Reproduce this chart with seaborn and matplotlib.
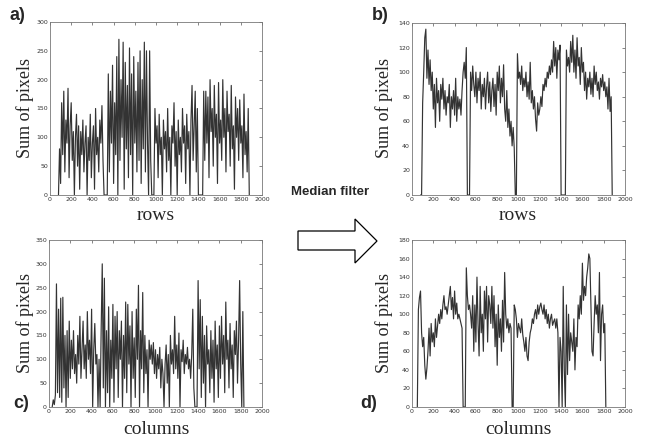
import numpy as np
import pandas as pd
import matplotlib
matplotlib.use("Agg")
import matplotlib.pyplot as plt
from matplotlib.patches import Polygon
import seaborn as sns

# ---------------- data (step 10 along x) ----------------
a_start = 80
a_vals = [0, 80, 20, 160, 70, 180, 40, 130, 90, 185,
          30, 120, 160, 60, 110, 0, 100, 140, 50, 120,
          10, 110, 70, 130, 40, 90, 120, 0, 100, 60,
          140, 30, 90, 120, 10, 150, 70, 100, 40, 130,
          90, 155, 60, 0, 0, 0, 0, 210, 40, 180,
          90, 225, 20, 160, 70, 240, 0, 270, 60, 200,
          100, 265, 10, 230, 80, 190, 30, 255, 70, 210,
          0, 240, 90, 180, 40, 230, 60, 250, 20, 200,
          80, 265, 40, 250, 90, 0, 250, 60, 0, 0,
          0, 150, 90, 120, 30, 140, 70, 100, 0, 130,
          80, 110, 40, 150, 60, 100, 0, 120, 90, 160,
          50, 110, 0, 130, 70, 100, 40, 150, 90, 120,
          20, 140, 80, 110, 0, 130, 190, 60, 120, 180,
          40, 150, 0, 0, 0, 0, 0, 180, 60, 180,
          90, 170, 30, 200, 110, 150, 50, 190, 100, 140,
          20, 195, 90, 130, 60, 200, 100, 150, 40, 180,
          110, 140, 50, 190, 80, 120, 10, 170, 100, 150,
          60, 165, 90, 120, 30, 175, 70, 110, 40, 150,
          0]

b_start = 80
b_vals = [0, 0, 75, 100, 128, 135, 95, 118, 90, 110,
          85, 100, 70, 90, 55, 95, 75, 85, 60, 90,
          78, 95, 70, 85, 65, 80, 75, 90, 55, 80,
          70, 85, 65, 95, 60, 80, 70, 78, 65, 85,
          100, 108, 95, 120, 0, 0, 0, 100, 85, 105,
          90, 80, 100, 75, 95, 85, 100, 70, 90, 80,
          95, 70, 88, 100, 75, 92, 68, 85, 95, 72,
          90, 65, 100, 85, 105, 75, 95, 80, 106, 70,
          60, 85, 55, 70, 48, 60, 40, 55, 38, 0,
          0, 115, 95, 100, 90, 105, 85, 95, 88, 100,
          80, 92, 78, 108, 75, 85, 70, 80, 62, 52,
          75, 65, 70, 80, 72, 90, 85, 95, 88, 100,
          95, 105, 98, 110, 100, 125, 105, 120, 95, 118,
          110, 122, 0, 0, 0, 0, 0, 118, 105, 112,
          100, 125, 108, 130, 100, 118, 95, 128, 105, 112,
          90, 120, 100, 108, 85, 100, 78, 95, 88, 100,
          82, 95, 80, 105, 90, 100, 85, 92, 78, 95,
          88, 98, 85, 92, 80, 88, 70, 95, 68, 80,
          0]

c_start = 30
c_vals = [0, 15, 5, 25, 258, 30, 205, 20, 228, 10,
          230, 40, 150, 0, 160, 20, 180, 60, 140, 80,
          160, 70, 110, 50, 150, 90, 190, 60, 120, 180,
          80, 130, 60, 200, 100, 140, 70, 205, 0, 120,
          175, 90, 110, 0, 100, 0, 165, 300, 40, 270,
          0, 160, 30, 210, 0, 140, 60, 215, 10, 190,
          80, 200, 20, 160, 100, 180, 0, 150, 60, 220,
          30, 215, 90, 170, 0, 200, 60, 145, 20, 205,
          100, 255, 0, 160, 80, 240, 30, 150, 70, 120,
          0, 140, 100, 130, 90, 135, 70, 120, 60, 110,
          80, 125, 40, 100, 70, 0, 90, 130, 50, 110,
          0, 150, 90, 120, 70, 190, 80, 130, 60, 155,
          0, 120, 95, 140, 70, 110, 90, 125, 80, 100,
          60, 110, 205, 40, 0, 0, 0, 265, 80, 225,
          20, 190, 50, 150, 0, 170, 90, 120, 30, 160,
          60, 140, 10, 180, 80, 130, 20, 170, 60, 190,
          90, 150, 30, 220, 100, 140, 40, 175, 80, 130,
          20, 160, 110, 180, 50, 140, 265, 90, 0, 200,
          0]

d_start = 50
d_vals = [0, 105, 118, 125, 80, 65, 75, 45, 30, 42,
          60, 85, 55, 90, 70, 80, 65, 95, 75, 88,
          100, 90, 105, 95, 110, 120, 105, 108, 100, 110,
          120, 130, 105, 118, 95, 125, 100, 112, 95, 100,
          95, 90, 85, 0, 0, 0, 150, 120, 105, 110,
          100, 85, 120, 60, 110, 70, 140, 90, 55, 130,
          80, 100, 60, 125, 95, 130, 70, 120, 110, 90,
          130, 85, 120, 65, 100, 45, 110, 75, 95, 60,
          115, 70, 145, 100, 85, 95, 80, 90, 85, 0,
          0, 110, 105, 95, 75, 90, 85, 80, 95, 78,
          70, 60, 75, 55, 50, 70, 80, 85, 95, 90,
          100, 105, 95, 110, 100, 108, 112, 105, 100, 110,
          95, 105, 90, 100, 85, 95, 100, 88, 92, 95,
          85, 95, 80, 0, 75, 60, 0, 130, 40, 0,
          110, 35, 100, 50, 80, 70, 60, 95, 40, 75,
          65, 110, 95, 120, 100, 155, 115, 130, 120, 140,
          150, 165, 160, 110, 60, 55, 90, 120, 100, 110,
          80, 145, 50, 100, 110, 80, 90, 0]

panels = [
    ("a", a_start, a_vals, 300, 50, "rows"),
    ("b", b_start, b_vals, 140, 20, "rows"),
    ("c", c_start, c_vals, 350, 50, "columns"),
    ("d", d_start, d_vals, 180, 20, "columns"),
]
x_ticks = list(range(0, 2001, 200))

# ---------------- figure ----------------
sns.set_style("white")
plt.rcParams["font.family"] = ["DejaVu Sans"]

W, H = 646, 445
fig = plt.figure(figsize=(W / 100, H / 100), dpi=100)

def box(l, t, r, b):
    return [l / W, 1 - b / H, (r - l) / W, (b - t) / H]

rects = {
    "a": box(50, 22, 262, 195),
    "b": box(412, 23, 625, 195),
    "c": box(49, 240, 262, 407),
    "d": box(412, 240, 625, 407),
}

for name, start, vals, ymax, ystep, xl in panels:
    ax = fig.add_axes(rects[name])
    xs = np.arange(start, start + 10 * len(vals), 10)
    df = pd.DataFrame({"x": xs, "y": vals})
    sns.lineplot(data=df, x="x", y="y", ax=ax, estimator=None,
                 color="#333333", linewidth=0.85, sort=False)
    ax.set_xlim(0, 2000)
    ax.set_ylim(0, ymax)
    ax.set_xticks(x_ticks)
    ax.set_yticks(list(range(0, ymax + 1, ystep)))
    ax.tick_params(direction="in", length=2, width=0.5, labelsize=4.5,
                   top=True, right=True, pad=1.5, colors="#555555",
                   labelcolor="#333333")
    for s in ax.spines.values():
        s.set_color("#777777")
        s.set_linewidth(0.6)
    ax.set_xlabel("")
    ax.set_ylabel("")

# axis labels (serif)
serif = ["Liberation Serif", "DejaVu Serif"]
for xpix, ypix in [(25, 108), (384, 108), (25, 323), (384, 323)]:
    fig.text(xpix / W, 1 - ypix / H, "Sum of pixels", rotation=90,
             ha="center", va="center", fontsize=13, family=serif)
fig.text(156 / W, 1 - 216 / H, "rows", ha="center", va="center",
         fontsize=14, family=serif)
fig.text(518 / W, 1 - 216 / H, "rows", ha="center", va="center",
         fontsize=14, family=serif)
fig.text(156 / W, 1 - 429 / H, "columns", ha="center", va="center",
         fontsize=14, family=serif)
fig.text(518 / W, 1 - 429 / H, "columns", ha="center", va="center",
         fontsize=14, family=serif)

# panel letters
sans = ["Liberation Sans", "DejaVu Sans"]
for txt, xp, yp in [("a)", 10, 15), ("b)", 372, 15), ("c)", 13, 403), ("d)", 360, 404)]:
    fig.text(xp / W, 1 - yp / H, txt, ha="left", va="center",
             fontsize=13, fontweight="bold", family=sans)

fig.text(330 / W, 1 - 192 / H, "Median filter", ha="center", va="center",
         fontsize=9.5, fontweight="bold", family=sans)

# block arrow
pts = [(298, 231), (355, 231), (355, 219), (377, 241), (355, 263),
       (355, 250), (298, 250)]
arrow = Polygon([(px / W, 1 - py / H) for px, py in pts], closed=True,
                facecolor="white", edgecolor="black", linewidth=0.9,
                transform=fig.transFigure)
fig.patches.append(arrow)

fig.savefig("out.png", dpi=100, facecolor="white")
